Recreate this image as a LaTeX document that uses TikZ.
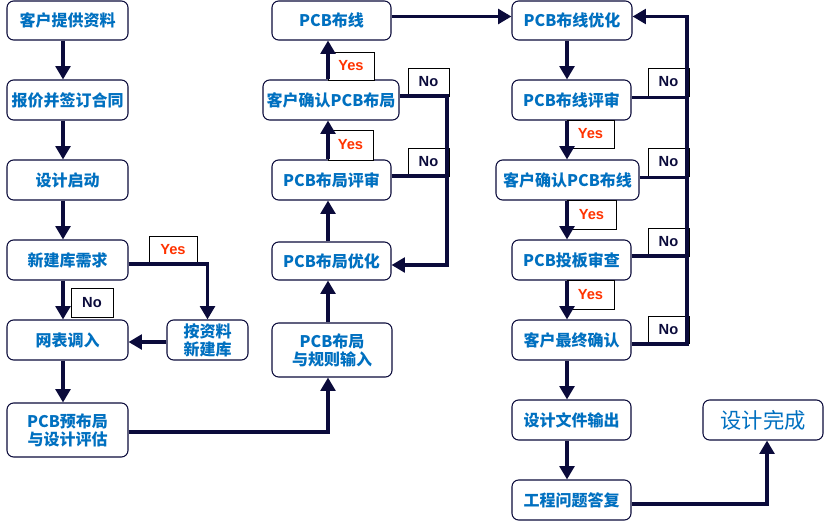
\documentclass[tikz,border=0pt]{standalone}
\usepackage{fontspec}
\setmainfont{Noto Sans CJK SC}
\newfontfamily\latinb{Liberation Sans}
\usetikzlibrary{arrows.meta}
\definecolor{txtblue}{HTML}{0070C0}
\definecolor{navy}{HTML}{0B0B3B}
\definecolor{yesred}{HTML}{FF3300}
\tikzset{
 box/.style={draw=navy, line width=0.8pt, rounded corners=5pt, fill=white, text=txtblue,
   font=\fontsize{12pt}{13.5pt}\selectfont\bfseries, align=center, inner sep=0pt},
 lbl/.style={draw=black, line width=0.6pt, fill=white, inner sep=0pt,
   font=\latinb\fontsize{11pt}{12pt}\selectfont\bfseries},
 yeslbl/.style={lbl, text=yesred},
 nolbl/.style={lbl, text=navy},
 conn/.style={draw=navy, line width=2.4pt},
 arr/.style={conn, -{Triangle[width=11pt,length=10pt]}},
}
\newcommand{\nbox}[7]{\node[box,#7, minimum width={(#4-#2)*0.75pt}, minimum height={(#5-#3)*0.75pt}] (#1) at ({(#2+#4)/2},{(#3+#5)/2}) {#6};}
\newcommand{\lblbox}[7]{\node[#6, minimum width={(#4-#2)*0.75pt}, minimum height={(#5-#3)*0.75pt}] (#1) at ({(#2+#4)/2},{(#3+#5)/2}) {#7};}
\begin{document}
\begin{tikzpicture}[x=0.75pt,y=-0.75pt]
\useasboundingbox (0,0) rectangle (824,521);
\coordinate (col1) at (63,0);
\coordinate (col2) at (328,0);
\coordinate (col3) at (567,0);
\coordinate (fb2) at (447,180);
\coordinate (fb3) at (687,180);
\coordinate (ex) at (767,0);
% column 1
\nbox{A1}{7}{1}{128}{40}{客户提供资料}{}
\nbox{A2}{7}{80}{128}{120}{报价并签订合同}{}
\nbox{A3}{7}{160}{128}{200}{设计启动}{}
\nbox{A4}{7}{240}{128}{280}{新建库需求}{}
\nbox{A5}{7}{320}{128}{360}{网表调入}{}
\nbox{A6}{7}{403}{128}{457}{PCB预布局\\与设计评估}{}
\nbox{B}{167}{320}{248}{360}{按资料\\新建库}{}
% column 2
\nbox{C1}{272}{323}{392}{377}{PCB布局\\与规则输入}{}
\nbox{C2}{272}{242}{391}{280}{PCB布局优化}{}
\nbox{C3}{272}{160}{391}{200}{PCB布局评审}{}
\nbox{C4}{263}{80}{399}{120}{客户确认PCB布局}{}
\nbox{C5}{272}{1}{391}{40}{PCB布线}{}
% column 3
\nbox{D1}{512}{1}{632}{40}{PCB布线优化}{}
\nbox{D2}{512}{80}{631}{120}{PCB布线评审}{}
\nbox{D3}{496}{160}{639}{200}{客户确认PCB布线}{}
\nbox{D4}{512}{240}{631}{280}{PCB投板审查}{}
\nbox{D5}{512}{320}{631}{360}{客户最终确认}{}
\nbox{D6}{512}{400}{631}{440}{设计文件输出}{}
\nbox{D7}{512}{480}{631}{520}{工程问题答复}{}
\nbox{E}{703}{400}{823}{440}{设计完成}{font=\fontsize{16pt}{18pt}\selectfont}
% labels
\lblbox{y1}{149}{236}{197}{263}{yeslbl}{Yes}
\lblbox{n1}{71}{288}{113}{317}{nolbl}{No}
\lblbox{y2}{328}{52}{374}{80}{yeslbl}{Yes}
\lblbox{y3}{328}{130}{373}{160}{yeslbl}{Yes}
\lblbox{n2}{408}{68}{449}{96}{nolbl}{No}
\lblbox{n3}{408}{148}{449}{176}{nolbl}{No}
\lblbox{n4}{648}{68}{689}{96}{nolbl}{No}
\lblbox{n5}{648}{148}{689}{176}{nolbl}{No}
\lblbox{n6}{648}{228}{689}{256}{nolbl}{No}
\lblbox{n7}{648}{316}{689}{343}{nolbl}{No}
\lblbox{y4}{567}{120}{614}{148}{yeslbl}{Yes}
\lblbox{y5}{567}{200}{616}{229}{yeslbl}{Yes}
\lblbox{y6}{567}{280}{614}{309}{yeslbl}{Yes}
% column 1 connectors
\draw[arr] (A1.south -| col1) -- (A2.north -| col1);
\draw[arr] (A2.south -| col1) -- (A3.north -| col1);
\draw[arr] (A3.south -| col1) -- (A4.north -| col1);
\draw[arr] (A4.south -| col1) -- (A5.north -| col1);
\draw[arr] (A5.south -| col1) -- (A6.north -| col1);
\coordinate (a4e) at ([yshift=-3pt]A4.east);
\draw[arr] (a4e) -| (B.north);
\coordinate (bw) at ([yshift=-1.5pt]B.west);
\draw[arr] (bw) -- (bw -| A5.east);
\coordinate (a6e) at ([yshift=-1.5pt]A6.east);
\draw[arr] (a6e) -| (C1.south -| col2);
% column 2 connectors
\draw[arr] (C1.north -| col2) -- (C2.south -| col2);
\draw[arr] (C2.north -| col2) -- (C3.south -| col2);
\draw[arr] (C3.north -| col2) -- (C4.south -| col2);
\draw[arr] (C4.north -| col2) -- (C5.south -| col2);
\coordinate (c5e) at ([yshift=3pt]C5.east);
\draw[arr] (c5e) -- (c5e -| D1.west);
\coordinate (c4e) at ([yshift=3pt]C4.east);
\coordinate (c3e) at ([yshift=3pt]C3.east);
\coordinate (c2e) at ([yshift=-3pt]C2.east);
\draw[arr] (c4e) -| (fb2) |- (c2e);
\draw[conn] (c3e) -- (c3e -| fb2);
% column 3 connectors
\draw[arr] (D1.south -| col3) -- (D2.north -| col3);
\draw[arr] (D2.south -| col3) -- (D3.north -| col3);
\draw[arr] (D3.south -| col3) -- (D4.north -| col3);
\draw[arr] (D4.south -| col3) -- (D5.north -| col3);
\draw[arr] (D5.south -| col3) -- (D6.north -| col3);
\draw[arr] (D6.south -| col3) -- (D7.north -| col3);
\coordinate (d5e) at ([yshift=-3pt]D5.east);
\coordinate (d1e) at ([yshift=3pt]D1.east);
\coordinate (d2e) at ([yshift=2pt]D2.east);
\coordinate (d3e) at ([yshift=2pt]D3.east);
\coordinate (d4e) at ([yshift=3pt]D4.east);
\draw[arr] (d5e) -| (fb3) |- (d1e);
\draw[conn] (d2e) -- (d2e -| fb3);
\draw[conn] (d3e) -- (d3e -| fb3);
\draw[conn] (d4e) -- (d4e -| fb3);
\coordinate (d7e) at ([yshift=-3pt]D7.east);
\draw[arr] (d7e) -| (ex |- E.south);
\end{tikzpicture}
\end{document}
